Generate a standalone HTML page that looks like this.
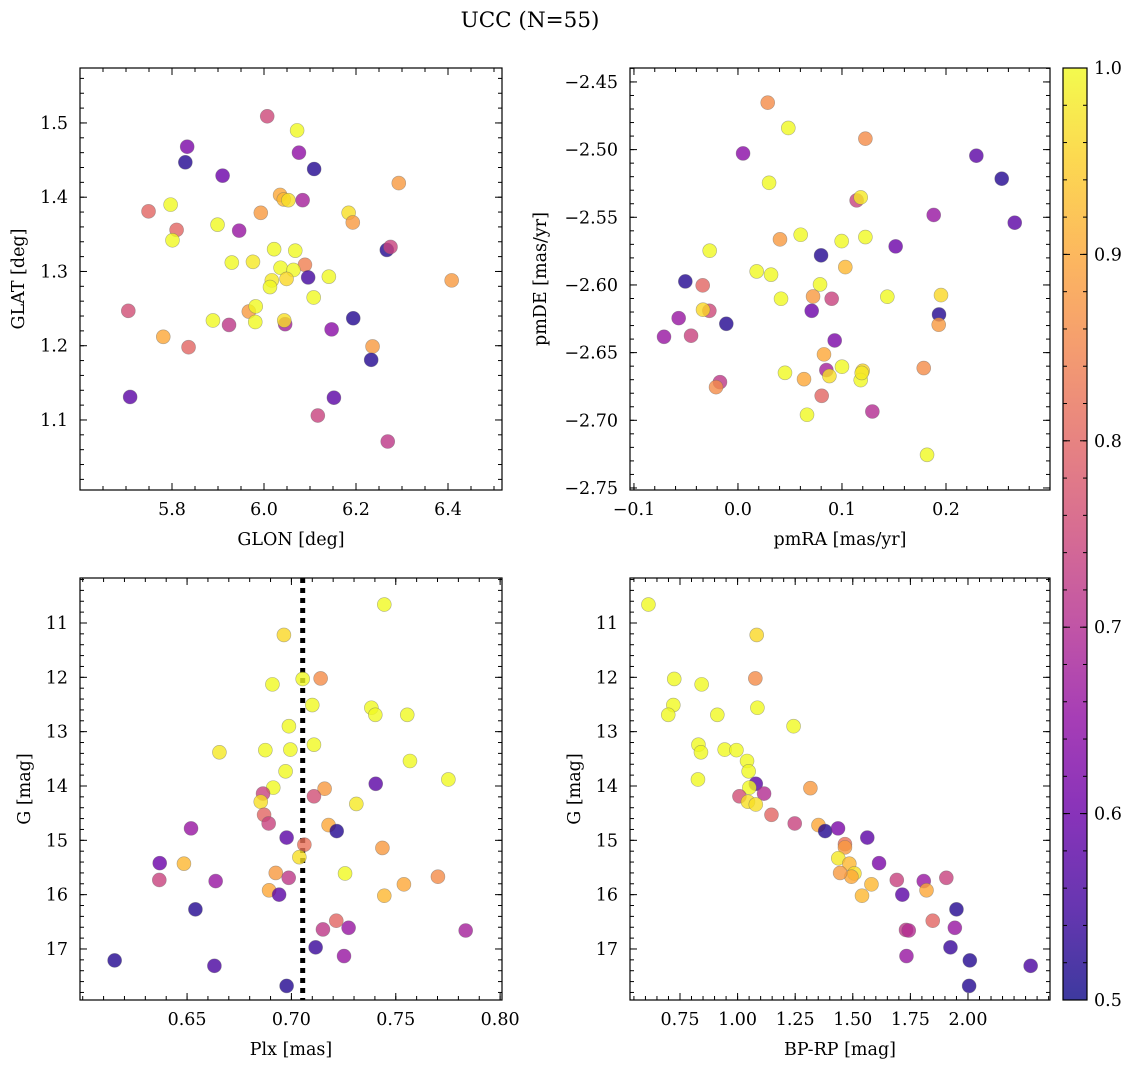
<!DOCTYPE html>
<html><head><meta charset="utf-8"><style>
body{margin:0;background:#fff}
svg{display:block;font-family:"DejaVu Serif","Liberation Serif",serif}
</style></head><body>
<svg id="fig" width="1136" height="1067" viewBox="0 0 1136 1067" xmlns="http://www.w3.org/2000/svg">
<defs><linearGradient id="plasma" x1="0" y1="1" x2="0" y2="0">
<stop offset="0" stop-color="#0d0887"/><stop offset="0.1" stop-color="#41049d"/><stop offset="0.2" stop-color="#6a00a8"/><stop offset="0.3" stop-color="#8f0da4"/><stop offset="0.4" stop-color="#b12a90"/><stop offset="0.5" stop-color="#cc4778"/><stop offset="0.6" stop-color="#e16462"/><stop offset="0.7" stop-color="#f2844b"/><stop offset="0.8" stop-color="#fca636"/><stop offset="0.9" stop-color="#fcce25"/><stop offset="1" stop-color="#f0f921"/>
</linearGradient></defs>
<text x="530" y="27" font-size="21.5" text-anchor="middle">UCC (N=55)</text>
</svg>
<script>
// Top-left: GLON vs GLAT
const glon=[6.007,6.072,5.833,5.829,6.076,6.109,5.910,6.293,6.035,6.043,6.053,6.084,5.797,5.749,5.993,6.184,6.193,5.899,5.946,5.810,5.801,6.022,6.068,6.267,6.275,5.930,5.976,6.089,6.036,6.064,6.096,6.141,6.408,6.017,6.049,6.013,6.108,5.705,5.967,5.982,5.889,5.981,6.046,6.044,5.924,6.194,6.147,5.781,6.236,5.836,6.233,5.709,6.152,6.117,6.269];
const glat=[1.509,1.490,1.468,1.447,1.460,1.438,1.429,1.419,1.403,1.397,1.396,1.396,1.390,1.381,1.379,1.379,1.366,1.363,1.355,1.356,1.342,1.330,1.328,1.329,1.333,1.312,1.313,1.309,1.305,1.302,1.292,1.293,1.288,1.288,1.290,1.279,1.265,1.247,1.246,1.253,1.234,1.232,1.229,1.234,1.228,1.237,1.222,1.212,1.199,1.198,1.181,1.131,1.130,1.106,1.071];
const probTL=[0.75,1.0,0.62,0.52,0.65,0.52,0.6,0.88,0.9,0.92,0.97,0.68,1.0,0.8,0.88,0.97,0.88,1.0,0.66,0.8,1.0,1.0,1.0,0.52,0.74,1.0,0.98,0.84,1.0,1.0,0.55,1.0,0.88,0.98,0.96,1.0,1.0,0.76,0.88,1.0,1.0,1.0,0.68,0.97,0.72,0.52,0.64,0.9,0.88,0.8,0.52,0.58,0.58,0.74,0.72];
// Top-right: pmRA vs pmDE
const pmra=[0.0286,0.0484,0.1225,0.0049,0.2292,0.2536,0.0299,0.1141,0.1180,0.1882,0.2661,0.0404,0.0603,0.0997,0.1225,0.1516,-0.0272,0.0799,0.1032,0.0180,0.0318,-0.0506,-0.0339,0.0789,0.0722,0.0901,0.0414,0.1436,0.1952,-0.0275,-0.0336,0.0709,0.1933,0.1930,-0.0570,-0.0112,-0.0711,-0.0451,0.0930,0.0827,0.0850,0.0879,0.1000,0.0452,0.1199,0.1180,0.0635,0.1786,-0.0173,-0.0211,0.0805,0.1292,0.0664,0.1818,0.1190];
const pmde=[-2.4653,-2.4840,-2.4919,-2.5028,-2.5045,-2.5215,-2.5245,-2.5375,-2.5353,-2.5483,-2.5540,-2.5663,-2.5629,-2.5676,-2.5646,-2.5715,-2.5747,-2.5781,-2.5868,-2.5900,-2.5924,-2.5974,-2.6003,-2.5996,-2.6085,-2.6102,-2.6102,-2.6087,-2.6075,-2.6191,-2.6183,-2.6191,-2.6218,-2.6294,-2.6245,-2.6287,-2.6383,-2.6375,-2.6410,-2.6513,-2.6629,-2.6673,-2.6604,-2.6649,-2.6634,-2.6703,-2.6696,-2.6614,-2.6718,-2.6755,-2.6819,-2.6935,-2.6959,-2.7255,-2.6650];
const probTR=[0.86,1.0,0.86,0.64,0.58,0.52,1.0,0.74,0.98,0.66,0.58,0.88,1.0,1.0,1.0,0.6,1.0,0.52,0.92,1.0,1.0,0.52,0.8,1.0,0.88,0.74,1.0,1.0,0.96,0.75,0.96,0.6,0.52,0.88,0.66,0.52,0.66,0.74,0.62,0.9,0.68,0.97,1.0,1.0,0.96,1.0,0.9,0.86,0.72,0.86,0.8,0.7,1.0,1.0,0.98];
// Bottom-left: Plx vs G
const plx=[0.7445,0.6964,0.7054,0.7140,0.6909,0.7100,0.7383,0.7402,0.7555,0.6988,0.6655,0.6875,0.6995,0.7108,0.7568,0.6972,0.7752,0.7404,0.6913,0.7159,0.6864,0.7108,0.6853,0.7311,0.6869,0.6891,0.7178,0.7217,0.6519,0.6977,0.7062,0.7436,0.7038,0.6369,0.6485,0.7257,0.7702,0.6367,0.6637,0.6925,0.6987,0.7539,0.6893,0.6941,0.7445,0.6540,0.7215,0.7151,0.7274,0.7835,0.7116,0.7252,0.6153,0.6631,0.6977];
const gmagL=[10.66,11.22,12.03,12.02,12.13,12.51,12.56,12.69,12.69,12.90,13.38,13.34,13.33,13.24,13.54,13.73,13.88,13.96,14.03,14.05,14.14,14.19,14.29,14.33,14.53,14.69,14.72,14.83,14.78,14.95,15.08,15.14,15.31,15.42,15.43,15.61,15.67,15.73,15.75,15.60,15.69,15.81,15.92,16.00,16.02,16.27,16.48,16.64,16.61,16.66,16.97,17.13,17.21,17.31,17.68];
const probBL=[1.0,0.96,1.0,0.86,1.0,1.0,1.0,1.0,1.0,1.0,0.98,1.0,1.0,1.0,1.0,1.0,1.0,0.58,1.0,0.88,0.74,0.76,0.97,0.98,0.8,0.74,0.9,0.52,0.66,0.58,0.82,0.88,0.97,0.6,0.92,1.0,0.86,0.74,0.66,0.88,0.72,0.9,0.9,0.58,0.92,0.52,0.8,0.72,0.66,0.68,0.54,0.66,0.52,0.56,0.52];
const plxLine=0.7054;
// Bottom-right: BP-RP vs G
const bprp=[0.613,1.083,0.725,1.077,0.844,0.721,1.086,0.699,0.912,1.243,0.830,0.841,0.944,0.995,1.041,1.048,0.828,1.079,1.051,1.316,1.115,1.008,1.045,1.079,1.147,1.248,1.351,1.380,1.436,1.563,1.466,1.466,1.437,1.614,1.485,1.507,1.494,1.445,1.691,1.808,1.906,1.581,1.820,1.715,1.540,1.950,1.847,1.731,1.743,1.943,1.924,1.733,2.008,2.272,2.005];
const gmagR=[10.66,11.22,12.03,12.02,12.13,12.51,12.56,12.69,12.69,12.90,13.24,13.38,13.33,13.34,13.54,13.73,13.88,13.96,14.03,14.04,14.14,14.19,14.29,14.34,14.53,14.69,14.72,14.83,14.78,14.95,15.07,15.13,15.33,15.42,15.43,15.61,15.67,15.60,15.73,15.75,15.69,15.81,15.92,16.00,16.02,16.27,16.48,16.65,16.66,16.61,16.97,17.13,17.21,17.31,17.68];
const probBR=[1.0,0.96,1.0,0.86,1.0,1.0,1.0,1.0,1.0,1.0,1.0,1.0,1.0,1.0,1.0,1.0,1.0,0.58,1.0,0.88,0.7,0.76,0.97,0.97,0.8,0.74,0.9,0.52,0.62,0.58,0.82,0.88,0.98,0.62,0.92,0.97,0.9,0.88,0.74,0.66,0.74,0.92,0.9,0.58,0.92,0.52,0.8,0.72,0.7,0.66,0.54,0.66,0.52,0.56,0.52];
// Tick labels
const ticksTLx=[5.8,6.0,6.2,6.4], ticksTLy=[1.1,1.2,1.3,1.4,1.5];
const ticksTRx=[-0.1,0.0,0.1,0.2], ticksTRy=[-2.45,-2.50,-2.55,-2.60,-2.65,-2.70,-2.75];
const ticksBLx=[0.65,0.70,0.75,0.80], ticksGy=[11,12,13,14,15,16,17];
const ticksBRx=[0.75,1.00,1.25,1.50,1.75,2.00];
const ticksCbar=[0.5,0.6,0.7,0.8,0.9,1.0];

const NS='http://www.w3.org/2000/svg';
const svg=document.getElementById('fig');
function mk(tag,attrs,parent){const e=document.createElementNS(NS,tag);for(const k in attrs)e.setAttribute(k,attrs[k]);(parent||svg).appendChild(e);return e;}
const stops=[[13,8,135],[65,4,157],[106,0,168],[143,13,164],[177,42,144],[204,71,120],[225,100,98],[242,132,75],[252,166,54],[252,206,37],[240,249,33]];
function plasma(p){let t=Math.max(0,Math.min(1,(p-0.5)/0.5))*10;const i=Math.min(9,Math.floor(t)),f=t-i;const a=stops[i],b=stops[i+1];return 'rgb('+a.map((v,k)=>Math.round(v+(b[k]-v)*f)).join(',')+')';}
function fmt(v,d){const s=Math.abs(v).toFixed(d);return (v<0?'\u2212':'')+s;}
const FS=17.5;

function panel(o){
  const g=mk('g',{});
  
  
  const sx=v=>o.x0+(v-o.xd[0])/(o.xd[1]-o.xd[0])*(o.x1-o.x0);
  const sy=v=>o.y1-(v-o.yd[0])/(o.yd[1]-o.yd[0])*(o.y1-o.y0);
  const tg=mk('g',{stroke:'#000','stroke-width':1},g);
  
  
  function ticksX(step,len){const s=Math.ceil(o.xd[0]/step-1e-6);for(let k=s;k*step<=o.xd[1]+1e-9;k++){const X=sx(k*step);mk('line',{x1:X,x2:X,y1:o.y1,y2:o.y1-len},tg);mk('line',{x1:X,x2:X,y1:o.y0,y2:o.y0+len},tg);}}
  function ticksY(step,len){const lo=Math.min(o.yd[0],o.yd[1]),hi=Math.max(o.yd[0],o.yd[1]);const s=Math.ceil(lo/step-1e-6);for(let k=s;k*step<=hi+1e-9;k++){const Y=sy(k*step);mk('line',{y1:Y,y2:Y,x1:o.x0,x2:o.x0+len},tg);mk('line',{y1:Y,y2:Y,x1:o.x1,x2:o.x1-len},tg);}}
  ticksX(o.xmin,4);ticksY(o.ymin,4);
  o.xt.forEach(v=>{const X=sx(v);mk('line',{x1:X,x2:X,y1:o.y1,y2:o.y1-7},tg);mk('line',{x1:X,x2:X,y1:o.y0,y2:o.y0+7},tg);
    const t=mk('text',{x:X,y:o.y1+25,'font-size':FS,'text-anchor':'middle'},g);t.textContent=fmt(v,o.xdp);
    
    });
  o.yt.forEach(v=>{const Y=sy(v);mk('line',{y1:Y,y2:Y,x1:o.x0,x2:o.x0+7},tg);mk('line',{y1:Y,y2:Y,x1:o.x1,x2:o.x1-7},tg);
    const t=mk('text',{x:o.x0-12,y:Y+6,'font-size':FS,'text-anchor':'end'},g);t.textContent=fmt(v,o.ydp);
    
    });
  if(o.vline!==undefined){const X=sx(o.vline);const l=mk('line',{x1:X,x2:X,y1:o.y0,y2:o.y1,stroke:'#000','stroke-width':5,'stroke-dasharray':'5,5'},g);
    
    }
  const pg=mk('g',{},g);
  
  
  for(let i=0;i<o.xs.length;i++){
    const c=mk('circle',{cx:sx(o.xs[i]),cy:sy(o.ys[i]),r:7,fill:plasma(o.ps[i]),'fill-opacity':0.8,stroke:'#666','stroke-opacity':0.5,'stroke-width':0.6},pg);
    
    
  }
  const fr=mk('rect',{x:o.x0,y:o.y0,width:o.x1-o.x0,height:o.y1-o.y0,fill:'none',stroke:'#000','stroke-width':1.2},g);
  
  
  const xl=mk('text',{x:(o.x0+o.x1)/2,y:o.y1+55,'font-size':FS,'text-anchor':'middle'},g);xl.textContent=o.xlab;
  
  
  const yx=o.ylx,yy=(o.y0+o.y1)/2;
  const yl=mk('text',{x:yx,y:yy,'font-size':FS,'text-anchor':'middle',transform:'rotate(-90 '+yx+' '+yy+')'},g);yl.textContent=o.ylab;
  
  
}
panel({name:'glon-glat-panel',x0:80,x1:502,y0:68,y1:490,xd:[5.6,6.5174],yd:[1.0057,1.574],xs:glon,ys:glat,ps:probTL,xt:ticksTLx,yt:ticksTLy,xdp:1,ydp:1,xmin:0.05,ymin:0.02,xlab:'GLON [deg]',ylab:'GLAT [deg]',ylx:24});
panel({name:'pm-panel',x0:630,x1:1050,y0:68,y1:490,xd:[-0.1038,0.3],yd:[-2.7515,-2.4397],xs:pmra,ys:pmde,ps:probTR,xt:ticksTRx,yt:ticksTRy,xdp:1,ydp:2,xmin:0.02,ymin:0.01,xlab:'pmRA [mas/yr]',ylab:'pmDE [mas/yr]',ylx:546});
panel({name:'plx-g-panel',x0:80,x1:502,y0:578,y1:1000,xd:[0.5987,0.8009],yd:[17.939,10.172],xs:plx,ys:gmagL,ps:probBL,xt:ticksBLx,yt:ticksGy,xdp:2,ydp:0,xmin:0.01,ymin:0.2,xlab:'Plx [mas]',ylab:'G [mag]',ylx:30,vline:plxLine});
panel({name:'cmd-panel',x0:630,x1:1050,y0:578,y1:1000,xd:[0.533,2.356],yd:[17.939,10.172],xs:bprp,ys:gmagR,ps:probBR,xt:ticksBRx,yt:ticksGy,xdp:2,ydp:0,xmin:0.05,ymin:0.2,xlab:'BP-RP [mag]',ylab:'G [mag]',ylx:580});
// colorbar
const cb=mk('g',{});


mk('rect',{x:1063,y:68,width:24,height:932,fill:'url(#plasma)','fill-opacity':0.8},cb);
mk('rect',{x:1063,y:68,width:24,height:932,fill:'none',stroke:'#000','stroke-width':1.2},cb);
const cy=v=>1000-(v-0.5)/0.5*932;
for(let k=25;k<=50;k++){const Y=cy(k*0.02);mk('line',{x1:1087,x2:1083,y1:Y,y2:Y,stroke:'#000'},cb);mk('line',{x1:1063,x2:1067,y1:Y,y2:Y,stroke:'#000'},cb);}
ticksCbar.forEach(v=>{const Y=cy(v);mk('line',{x1:1087,x2:1080,y1:Y,y2:Y,stroke:'#000'},cb);mk('line',{x1:1063,x2:1070,y1:Y,y2:Y,stroke:'#000'},cb);
  const t=mk('text',{x:1094,y:Y+6,'font-size':FS},cb);t.textContent=v.toFixed(1);
  
  });
</script>
</body></html>
